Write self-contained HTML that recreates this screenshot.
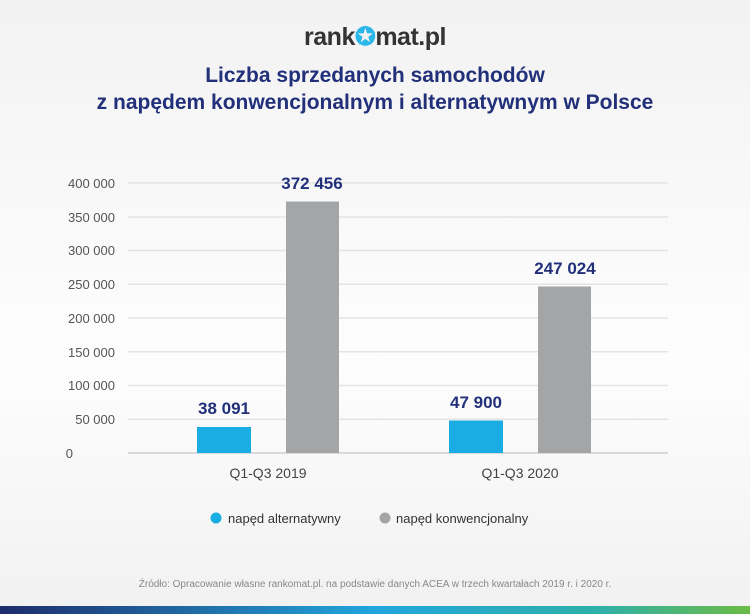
<!DOCTYPE html>
<html><head><meta charset="utf-8"><style>
body{margin:0;width:750px;height:614px;overflow:hidden;background:linear-gradient(#f2f2f2,#fafafa 40%,#fdfdfd 60%,#f1f1f1);font-family:"Liberation Sans",sans-serif;position:relative}
.a{position:absolute}
</style></head><body>
<div class="a" style="left:0;top:22px;width:750px;text-align:center;font-weight:bold;font-size:25px;color:#333;letter-spacing:-0.5px">rank<span style="color:#29b6e8">✪</span>mat.pl</div>
<div class="a" style="left:0;top:62px;width:750px;text-align:center;font-weight:bold;font-size:21px;line-height:27px;color:#22307a">Liczba sprzedanych samochodów<br>z napędem konwencjonalnym i alternatywnym w Polsce</div>
<svg class="a" style="left:0;top:0" width="750" height="614">
<g stroke="#e4e4e4" stroke-width="1.5">
<line x1="128" x2="668" y1="183" y2="183"/><line x1="128" x2="668" y1="217" y2="217"/><line x1="128" x2="668" y1="250.5" y2="250.5"/><line x1="128" x2="668" y1="284.25" y2="284.25"/><line x1="128" x2="668" y1="318" y2="318"/><line x1="128" x2="668" y1="351.75" y2="351.75"/><line x1="128" x2="668" y1="385.5" y2="385.5"/><line x1="128" x2="668" y1="419.25" y2="419.25"/>
</g>
<line x1="128" x2="668" y1="453" y2="453" stroke="#cfcfcf" stroke-width="1.5"/>
<g font-size="13" fill="#555" text-anchor="end" font-family="Liberation Sans">
<text x="115" y="188">400 000</text><text x="115" y="222">350 000</text><text x="115" y="255">300 000</text><text x="115" y="289">250 000</text><text x="115" y="323">200 000</text><text x="115" y="357">150 000</text><text x="115" y="390">100 000</text><text x="115" y="424">50 000</text><text x="73" y="458">0</text>
</g>
<rect x="197" y="427" width="54" height="26" fill="#19ade3"/>
<rect x="286" y="201.5" width="53" height="251.5" fill="#a4a5a7"/>
<rect x="449" y="420.5" width="54" height="32.5" fill="#19ade3"/>
<rect x="538" y="286.5" width="53" height="166.5" fill="#a4a5a7"/>
<g font-size="17" font-weight="bold" fill="#22307a" text-anchor="middle" font-family="Liberation Sans">
<text x="224" y="414">38 091</text><text x="312" y="189">372 456</text><text x="476" y="408">47 900</text><text x="565" y="274">247 024</text>
</g>
<g font-size="14" fill="#444" text-anchor="middle" font-family="Liberation Sans">
<text x="268" y="478">Q1-Q3 2019</text><text x="520" y="478">Q1-Q3 2020</text>
</g>
<circle cx="216" cy="518" r="5.5" fill="#19ade3"/><text x="228" y="523" font-size="13" fill="#333" font-family="Liberation Sans">napęd alternatywny</text>
<circle cx="385" cy="518" r="5.5" fill="#a4a5a7"/><text x="396" y="523" font-size="13" fill="#333" font-family="Liberation Sans">napęd konwencjonalny</text>
<text x="375" y="587" font-size="10" fill="#888" text-anchor="middle" font-family="Liberation Sans">Źródło: Opracowanie własne rankomat.pl. na podstawie danych ACEA w trzech kwartałach 2019 r. i 2020 r.</text>
<defs><linearGradient id="g"><stop offset="0" stop-color="#1e2d6b"/><stop offset="0.5" stop-color="#22a6dd"/><stop offset="0.8" stop-color="#2fb0a8"/><stop offset="1" stop-color="#6cbb45"/></linearGradient></defs>
<rect x="0" y="606" width="750" height="8" fill="url(#g)"/>
</svg>
</body></html>
